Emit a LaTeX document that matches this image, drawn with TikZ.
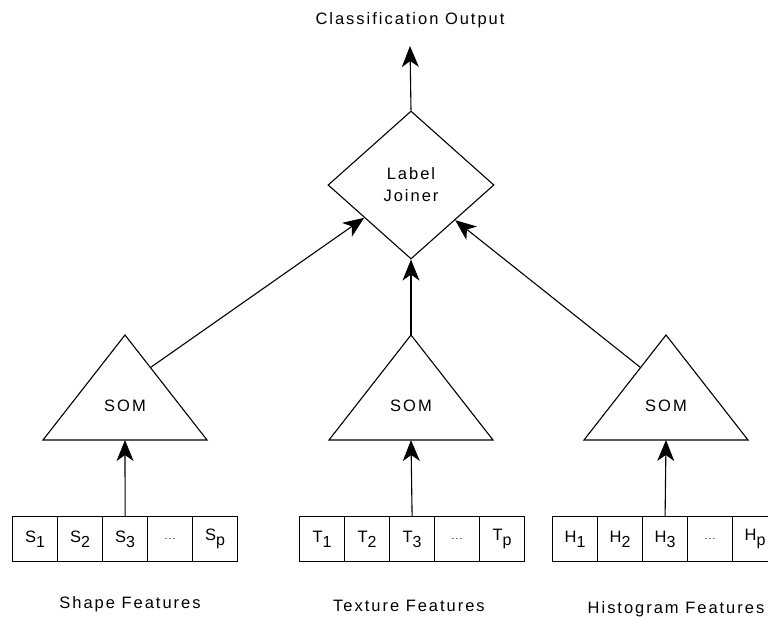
\documentclass[tikz,border=0pt]{standalone}
\usepackage{fontspec}
\setmainfont[LetterSpace=12]{Liberation Sans}
\usetikzlibrary{shapes.geometric,arrows.meta,calc}
\newcommand{\sbs}[1]{\raisebox{-0.55ex}{\fontsize{16}{16}\selectfont #1}}
\tikzset{
  every node/.style={font=\fontsize{16.5}{19}\selectfont},
  line/.style={line width=1.1pt},
  arr/.style={line width=1.1pt,arrows={-Stealth[length=21pt,width=17pt,inset=6pt]}},
  cell/.style={draw,line width=1.2pt,minimum width=45pt,minimum height=45pt,inner sep=0pt,anchor=north west},
  joiner/.style={draw,line width=1.1pt,diamond,aspect=1.12,minimum width=166pt,minimum height=148pt,inner sep=0pt,align=center},
  lbl/.style={inner sep=0pt}
}
\begin{document}
\begin{tikzpicture}[x=1pt,y=-1pt]
\useasboundingbox (0,0) rectangle (768,620);
\clip (0,0) rectangle (768,620);

% output label
\node[lbl] (out) at (410,20) {Classification Output};
% joiner diamond
\node[joiner] (dia) at (411,185) {Label\\[3pt]Joiner};

% triangles
\foreach \n/\cx in {A/125,B/411,C/666}{
  \coordinate (apex\n) at (\cx,335);
  \coordinate (bl\n) at (\cx-82,440);
  \coordinate (br\n) at (\cx+82,440);
  \coordinate (base\n) at (\cx,440);
  \draw[line] (apex\n) -- (bl\n) -- (br\n) -- cycle;
  \node[lbl] (som\n) at (\cx,406) {SOM};
}
\coordinate (sideA) at ($(apexA)!0.31!(brA)$);
\coordinate (sideC) at ($(apexC)!0.31!(blC)$);

% feature boxes
\foreach \n/\x/\L in {A/12/S,B/299/T,C/552/H}{
  \node[cell] (\n1) at (\x,516) {\L\sbs{1}};
  \node[cell] (\n2) at (\x+45,516) {\L\sbs{2}};
  \node[cell] (\n3) at (\x+90,516) {\L\sbs{3}};
  \node[cell] (\n4) at (\x+135,516) {\fontsize{10}{10}\selectfont ...};
  \node[cell] (\n5) at (\x+180,516) {\L\sbs{p}};
}

% feature labels
\node[lbl] (fa) at (130,604) {Shape Features};
\node[lbl] (fb) at (409,606) {Texture Features};
\node[lbl] (fc) at (676,609) {Histogram Features};

% arrows
\draw[arr] (A3.north) -- (baseA);
\draw[arr] (B3.north) -- (baseB);
\draw[arr] (C3.north) -- (baseC);
\draw[arr] (sideA) -- (dia);
\draw[arr] (sideC) -- (dia);
\draw[arr] (apexB) -- (dia.south);
\draw[arr] (dia.north) -- (out.south |- 0,46);
\end{tikzpicture}
\end{document}
